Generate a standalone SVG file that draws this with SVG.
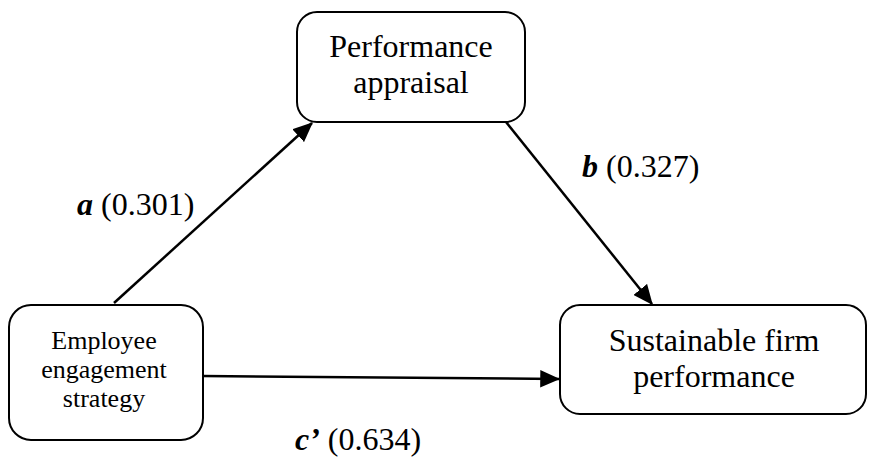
<svg xmlns="http://www.w3.org/2000/svg" width="870" height="459" viewBox="0 0 870 459">
<style>
.box{fill:#fff;stroke:#000;stroke-width:2}
.t{font-family:"Liberation Serif","Times New Roman",serif;fill:#000;text-anchor:middle}
.lbl{font-family:"Liberation Serif","Times New Roman",serif;fill:#000;font-size:32px}
.e{stroke:#000;stroke-width:2.5;fill:none;marker-end:url(#ah)}
</style>
<defs>
<marker id="ah" markerWidth="8" markerHeight="7" refX="7.5" refY="3.5" orient="auto" markerUnits="strokeWidth">
<path d="M0,0 L8,3.5 L0,7 z" fill="#000"/>
</marker>
</defs>
<rect width="870" height="459" fill="#fff"/>
<g id="connectors">
<line class="e" x1="114" y1="303" x2="312" y2="123"/>
<line class="e" x1="506" y1="122" x2="652" y2="304"/>
<line class="e" x1="203" y1="376" x2="559" y2="379"/>
</g>
<g id="node-performance-appraisal">
<rect class="box" x="297" y="12" width="228" height="110" rx="20"/>
<text class="t" x="411" y="57" font-size="32">Performance</text>
<text class="t" x="411" y="93" font-size="32">appraisal</text>
</g>
<g id="node-employee-engagement">
<rect class="box" x="9" y="305" width="194" height="135" rx="22"/>
<text class="t" x="104" y="349" font-size="26">Employee</text>
<text class="t" x="104" y="378" font-size="26">engagement</text>
<text class="t" x="104" y="407" font-size="26">strategy</text>
</g>
<g id="node-sustainable-firm">
<rect class="box" x="560" y="305" width="306" height="109" rx="20"/>
<text class="t" x="714" y="351" font-size="32">Sustainable firm</text>
<text class="t" x="714" y="387" font-size="32">performance</text>
</g>
<g id="labels">
<text class="lbl" x="77" y="215"><tspan font-weight="bold" font-style="italic">a</tspan> (0.301)</text>
<text class="lbl" x="582" y="177"><tspan font-weight="bold" font-style="italic">b</tspan> (0.327)</text>
<text class="lbl" x="295" y="450"><tspan font-weight="bold" font-style="italic">c’</tspan> (0.634)</text>
</g>
</svg>
